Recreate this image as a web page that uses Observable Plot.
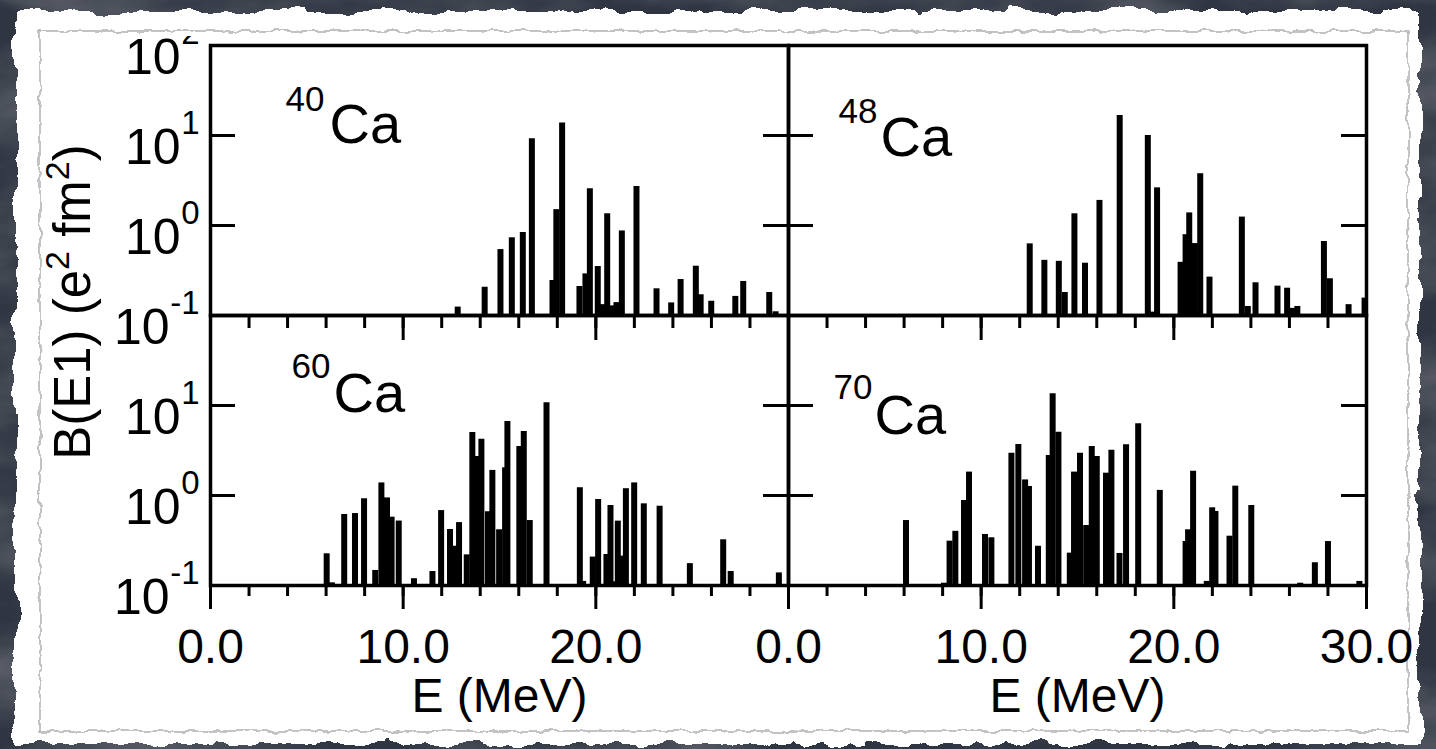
<!DOCTYPE html>
<html>
<head>
<meta charset="utf-8">
<script src="https://cdn.jsdelivr.net/npm/d3@7"></script>
<script src="https://cdn.jsdelivr.net/npm/@observablehq/plot@0.6"></script>
<style>
  html, body { margin: 0; padding: 0; background: #2f3541; width: 1436px; height: 749px; overflow: hidden; }
  #wrap { position: relative; width: 1436px; height: 749px; }
  #bg, #chart { position: absolute; left: 0; top: 0; }
  /* the reference figure is cropped just above its top tick label */
  #chart { clip-path: inset(36px 0 0 0); }
</style>
</head>
<body>
<div id="wrap">
<svg id="bg" width="1436" height="749" viewBox="0 0 1436 749">
  <defs>
    <filter id="mottle" x="0" y="0" width="1436" height="749" filterUnits="userSpaceOnUse">
      <feTurbulence type="fractalNoise" baseFrequency="0.006 0.014" numOctaves="5" seed="7" result="t"/>
      <feColorMatrix in="t" type="matrix" values="0 0 0 0 1  0 0 0 0 1  0 0 0 0 1  0 0 0 1.8 -0.6"/>
    </filter>
    <filter id="rough" x="-3%" y="-3%" width="106%" height="106%">
      <feTurbulence type="fractalNoise" baseFrequency="0.035" numOctaves="4" seed="2" result="n"/>
      <feDisplacementMap in="SourceGraphic" in2="n" scale="16" xChannelSelector="R" yChannelSelector="G"/>
    </filter>
    <filter id="rough2" x="-3%" y="-3%" width="106%" height="106%">
      <feTurbulence type="fractalNoise" baseFrequency="0.07" numOctaves="3" seed="5" result="n"/>
      <feDisplacementMap in="SourceGraphic" in2="n" scale="7" xChannelSelector="R" yChannelSelector="G"/>
    </filter>
  </defs>
  <rect width="1436" height="749" fill="#2f3541"/>
  <rect width="1436" height="749" fill="#ffffff" filter="url(#mottle)" opacity="0.22"/>
  <rect x="16" y="11" width="1404" height="733" fill="#ffffff" filter="url(#rough)"/>
  <rect x="40" y="31" width="1368" height="700" fill="none" stroke="#b4b4b4" stroke-width="1.6" filter="url(#rough2)"/>
</svg>
<div id="chart"></div>
</div>
<script>
// ---------------- data ----------------
const nuclei       = ["40Ca", "48Ca", "60Ca", "70Ca"];
const massNumbers  = ["40", "48", "60", "70"];
const panelCol     = ["left", "right", "left", "right"];
const panelRow     = ["top", "top", "bottom", "bottom"];

// E (MeV) and B(E1) (e^2 fm^2) for each nucleus
const e40 = [12.83, 14.23, 15.05, 15.64, 16.21, 16.68, 17.75, 17.95, 18.25, 19.15, 19.46, 19.69, 20.10, 20.33, 20.59, 20.81, 21.07, 21.35, 22.11, 23.15, 23.91, 24.40, 25.19, 25.44, 25.99, 27.24, 27.65, 29.00, 29.33];
const b40 = [0.124, 0.206, 0.54, 0.73, 0.836, 9.18, 0.245, 1.5, 13.8, 0.21, 0.29, 2.56, 0.35, 0.132, 1.35, 0.128, 0.139, 0.87, 2.71, 0.198, 0.138, 0.251, 0.353, 0.17, 0.144, 0.163, 0.239, 0.18, 0.11];

const e48 = [12.52, 13.28, 14.03, 14.34, 14.84, 15.39, 16.14, 17.19, 18.65, 18.88, 19.13, 20.35, 20.61, 20.80, 21.09, 21.37, 21.85, 23.53, 23.84, 24.24, 25.38, 25.88, 26.13, 26.41, 27.79, 28.10, 29.07, 29.90];
const b48 = [0.625, 0.41, 0.40, 0.18, 1.35, 0.381, 1.9, 16.7, 10.0, 0.109, 2.62, 0.39, 0.79, 1.38, 0.63, 3.75, 0.267, 1.24, 0.126, 0.231, 0.212, 0.201, 0.12, 0.126, 0.664, 0.256, 0.132, 0.156];

const e60 = [6.03, 6.30, 6.94, 7.50, 7.97, 8.55, 8.87, 9.16, 9.40, 9.77, 10.56, 11.52, 11.97, 12.43, 12.68, 12.90, 13.30, 13.59, 13.82, 14.06, 14.40, 14.63, 14.98, 15.29, 15.41, 16.03, 16.26, 16.57, 17.44, 19.17, 19.34, 19.84, 20.12, 20.55, 20.76, 20.95, 21.14, 21.33, 21.56, 21.99, 22.49, 23.31, 24.88, 26.61, 27.00, 29.50];
const b60 = [0.225, 0.107, 0.615, 0.63, 0.92, 0.147, 1.38, 0.94, 0.574, 0.52, 0.119, 0.143, 0.68, 0.419, 0.273, 0.50, 0.219, 5.0, 2.71, 4.22, 0.66, 1.9, 0.416, 2.03, 6.64, 3.5, 5.14, 0.527, 10.7, 1.22, 0.111, 0.207, 0.903, 0.221, 0.774, 0.11, 0.519, 0.212, 1.19, 1.38, 0.808, 0.76, 0.175, 0.322, 0.143, 0.138];

const e70 = [6.10, 8.07, 8.36, 8.66, 9.11, 9.37, 10.20, 10.53, 11.57, 11.93, 12.28, 12.48, 12.95, 13.51, 13.71, 14.01, 14.60, 14.82, 15.13, 15.45, 15.74, 16.00, 16.48, 16.76, 17.18, 17.52, 18.15, 19.27, 20.61, 20.74, 21.00, 21.71, 21.99, 22.16, 22.89, 23.19, 24.02, 26.56, 27.32, 28.00, 29.63];
const b70 = [0.527, 0.106, 0.311, 0.40, 0.88, 1.82, 0.369, 0.339, 2.95, 3.69, 1.49, 1.26, 0.273, 2.78, 13.5, 5.06, 0.229, 1.82, 2.95, 0.464, 3.5, 2.71, 1.77, 3.19, 0.227, 3.66, 6.26, 1.14, 0.308, 0.416, 1.86, 0.111, 0.73, 0.664, 0.353, 1.27, 0.774, 0.106, 0.179, 0.308, 0.111];

// ticks and tick labels
const xMinorTicks       = [0, 2, 4, 6, 8, 10, 12, 14, 16, 18, 20, 22, 24, 26, 28, 30];
const xMajorTicks       = [0, 10, 20, 30];
const xTickLabelsLeft   = [0, 10, 20];
const xTickLabelsRight  = [0, 10, 20, 30];
const yInnerTicks       = [10, 1];
const yTickLabelsTop    = [100, 10, 1, 0.1];
const yTickLabelsBottom = [10, 1, 0.1];
const xTitle = "E (MeV)";
const yDomain = [0.1, 100];

// ---------------- tables built from the arrays ----------------
const energies = [e40, e48, e60, e70];
const strengths = [b40, b48, b60, b70];
const panels = nuclei.map((n, i) => ({nucleus: n, mass: massNumbers[i], col: panelCol[i], row: panelRow[i]}));
const bars = panels.flatMap((p, i) => energies[i].map((E, j) => ({E, B: strengths[i][j], col: p.col, row: p.row})));

const cols = ["left", "right"], rows = ["top", "bottom"];
const yTickRows = rows.flatMap(row => cols.flatMap(col => yInnerTicks.map(v => ({v, col, row}))));
const xMinorRows = cols.flatMap(col => xMinorTicks.map(v => ({v, col, row: "bottom"})));
const xMajorRows = cols.flatMap(col => xMajorTicks.map(v => ({v, col, row: "bottom"})));
const xLabelRows = [
  ...xTickLabelsLeft.map(v => ({v, col: "left", row: "bottom"})),
  ...xTickLabelsRight.map(v => ({v, col: "right", row: "bottom"}))
];
const xTitleRows = cols.map(col => ({col, row: "bottom", label: xTitle}));
const yLabelRows = [
  ...yTickLabelsTop.map(v => ({v, col: "left", row: "top"})),
  ...yTickLabelsBottom.map(v => ({v, col: "left", row: "bottom"}))
].map(d => ({...d, exp: String(Math.round(Math.log10(d.v)))}));

// ---------------- layout (styling, not data) ----------------
const FW = 578, FH = 270;           // facet size in px
const labelLayout = {
  "40Ca": {massDx: 75, massDy: 65, caDx: 119, caDy: 97},
  "48Ca": {massDx: 50, massDy: 77, caDx: 92,  caDy: 110},
  "60Ca": {massDx: 81, massDy: 62, caDx: 123, caDy: 96},
  "70Ca": {massDx: 45, massDy: 83, caDx: 86,  caDy: 118}
};
const fac = {fx: "col", fy: "row"};

const isoMarks = panels.flatMap(p => {
  const L = labelLayout[p.nucleus];
  return [
    Plot.text([p], {...fac, text: "mass", frameAnchor: "top-left", textAnchor: "start", lineAnchor: "bottom", dx: L.massDx, dy: L.massDy, fontSize: 35}),
    Plot.text([p], {...fac, text: () => "Ca", frameAnchor: "top-left", textAnchor: "start", lineAnchor: "bottom", dx: L.caDx, dy: L.caDy, fontSize: 56})
  ];
});

const chart = Plot.plot({
  width: 1436,
  height: 749,
  marginLeft: 210,
  marginRight: 70,
  marginTop: 45,
  marginBottom: 164,
  style: {background: "transparent", fontFamily: "'Liberation Sans', Arial, Helvetica, sans-serif", overflow: "visible", color: "#000"},
  x: {domain: [0, 30], axis: null},
  y: {type: "log", domain: yDomain, axis: null},
  fx: {domain: cols, padding: 0, axis: null, label: null},
  fy: {domain: rows, padding: 0, axis: null, label: null},
  marks: [
    // spectra
    Plot.ruleX(bars, {...fac, x: "E", y1: () => yDomain[0], y2: "B", stroke: "#000", strokeWidth: 6}),
    // panel frames
    Plot.frame({stroke: "#000", strokeWidth: 3.5}),
    // inward y ticks on both sides of every panel
    Plot.tickY(yTickRows, {...fac, y: "v", insetRight: FW - 25, stroke: "#000", strokeWidth: 3}),
    Plot.tickY(yTickRows, {...fac, y: "v", insetLeft: FW - 25, stroke: "#000", strokeWidth: 3}),
    // inward x ticks along the top of the lower row
    Plot.tickX(xMinorRows, {...fac, x: "v", insetBottom: FH - 13, stroke: "#000", strokeWidth: 3}),
    Plot.tickX(xMajorRows, {...fac, x: "v", insetBottom: FH - 25, stroke: "#000", strokeWidth: 3}),
    // outward x ticks below the lower row
    Plot.tickX(xMinorRows, {...fac, x: "v", insetTop: FH, insetBottom: -11, stroke: "#000", strokeWidth: 3}),
    Plot.tickX(xMajorRows, {...fac, x: "v", insetTop: FH, insetBottom: -24, stroke: "#000", strokeWidth: 3}),
    // x tick labels and titles
    Plot.text(xLabelRows, {...fac, x: "v", text: d => d3.format(".1f")(d.v), frameAnchor: "bottom", lineAnchor: "bottom", dy: 77, fontSize: 48}),
    Plot.text(xTitleRows, {...fac, text: "label", frameAnchor: "bottom", lineAnchor: "bottom", dy: 126, fontSize: 48}),
    // y tick labels: "10" with superscript exponent
    Plot.text(yLabelRows.filter(d => d.v >= 1), {...fac, y: "v", text: () => "10", frameAnchor: "left", textAnchor: "end", lineAnchor: "bottom", dx: -30, dy: 28, fontSize: 50}),
    Plot.text(yLabelRows.filter(d => d.v < 1), {...fac, y: "v", text: () => "10", frameAnchor: "left", textAnchor: "end", lineAnchor: "bottom", dx: -41, dy: 28, fontSize: 50}),
    Plot.text(yLabelRows, {...fac, y: "v", text: "exp", frameAnchor: "left", textAnchor: "end", lineAnchor: "bottom", dx: -11, dy: -2, fontSize: 33}),
    // isotope labels
    ...isoMarks
  ]
});

// y-axis title with superscripts
const svg = d3.select(chart);
const yt = svg.append("text")
  .attr("transform", "translate(90,302) rotate(-90)")
  .attr("text-anchor", "middle")
  .attr("font-size", 51)
  .attr("fill", "#000");
yt.append("tspan").text("B(E1) (e");
yt.append("tspan").attr("font-size", 34).attr("dy", -21).text("2");
yt.append("tspan").attr("dy", 21).text(" fm");
yt.append("tspan").attr("font-size", 34).attr("dy", -21).text("2");
yt.append("tspan").attr("dy", 21).text(")");

document.getElementById("chart").appendChild(chart);
</script>
</body>
</html>
